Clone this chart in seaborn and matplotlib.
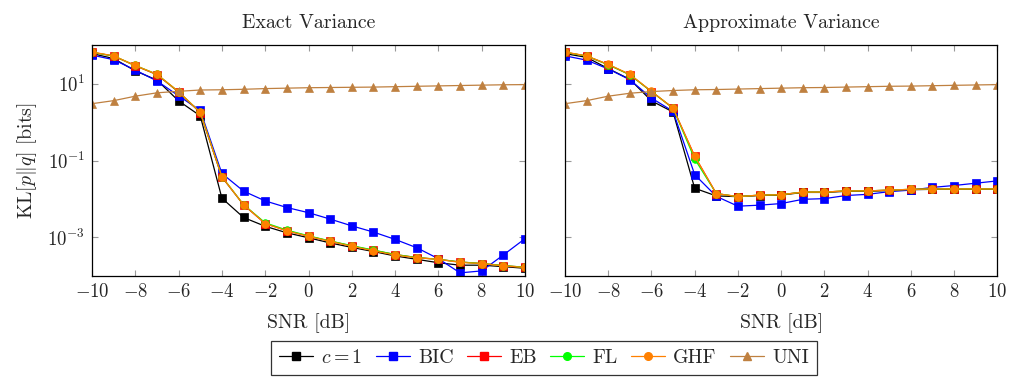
import numpy as np
import pandas as pd
import matplotlib
matplotlib.use("Agg")
import matplotlib.pyplot as plt
import seaborn as sns
from matplotlib.lines import Line2D

snr = list(range(-10, 11))

exact_c1 = [60.3, 44.7, 21.4, 12.3, 3.55, 1.45, 1.05e-2, 3.3e-3, 1.95e-3, 1.32e-3, 9.8e-4, 7.2e-4, 5.5e-4,
            4.3e-4, 3.3e-4, 2.7e-4, 2.2e-4, 1.9e-4, 1.9e-4, 1.74e-4, 1.58e-4]
exact_bic = [55, 41.7, 22.4, 11.7, 4.8, 2.0, 4.6e-2, 1.6e-2, 8.9e-3, 6.0e-3, 4.4e-3, 3.0e-3, 2.0e-3,
             1.38e-3, 8.9e-4, 5.4e-4, 2.8e-4, 1.2e-4, 1.35e-4, 3.5e-4, 9.3e-4]
exact_eb = [65, 52, 29, 17, 6.0, 1.75, 3.7e-2, 7.0e-3, 2.3e-3, 1.5e-3, 1.08e-3, 8.0e-4, 6.0e-4,
            4.6e-4, 3.6e-4, 3.0e-4, 2.7e-4, 2.3e-4, 2.1e-4, 1.85e-4, 1.68e-4]
exact_fl = [65, 52, 29.5, 17.4, 6.1, 1.78, 3.8e-2, 7.1e-3, 2.4e-3, 1.55e-3, 1.1e-3, 8.1e-4, 6.1e-4,
            4.7e-4, 3.6e-4, 3.0e-4, 2.7e-4, 2.3e-4, 2.1e-4, 1.85e-4, 1.68e-4]
exact_ghf = [66, 52.5, 29.5, 17.4, 6.2, 1.78, 3.8e-2, 7.1e-3, 2.3e-3, 1.48e-3, 1.07e-3, 7.9e-4, 5.9e-4,
             4.5e-4, 3.5e-4, 2.95e-4, 2.7e-4, 2.24e-4, 2.1e-4, 1.82e-4, 1.66e-4]
exact_uni = [3.0, 3.6, 4.7, 5.75, 6.3, 6.8, 6.9, 7.1, 7.4, 7.6, 7.8, 7.9, 8.0, 8.1, 8.3, 8.5, 8.7,
             8.9, 9.1, 9.3, 9.4]

approx_c1 = [60, 48, 24.5, 12.9, 3.55, 1.82, 1.9e-2, 1.2e-2, 1.15e-2, 1.23e-2, 1.26e-2, 1.48e-2, 1.48e-2,
             1.58e-2, 1.58e-2, 1.66e-2, 1.74e-2, 1.78e-2, 1.78e-2, 1.78e-2, 1.78e-2]
approx_bic = [52.5, 40.7, 24, 12.6, 4.2, 1.9, 4.3e-2, 1.17e-2, 6.5e-3, 6.9e-3, 7.6e-3, 9.8e-3, 1.02e-2,
              1.23e-2, 1.32e-2, 1.55e-2, 1.7e-2, 2.0e-2, 2.24e-2, 2.57e-2, 2.95e-2]
approx_eb = [65, 52, 31, 17, 6.2, 2.3, 0.13, 1.38e-2, 1.15e-2, 1.26e-2, 1.29e-2, 1.51e-2, 1.51e-2,
             1.62e-2, 1.62e-2, 1.7e-2, 1.78e-2, 1.82e-2, 1.82e-2, 1.82e-2, 1.82e-2]
approx_fl = [65, 52, 31, 17, 6.2, 2.3, 0.11, 1.38e-2, 1.15e-2, 1.26e-2, 1.29e-2, 1.51e-2, 1.51e-2,
             1.62e-2, 1.62e-2, 1.7e-2, 1.78e-2, 1.82e-2, 1.82e-2, 1.82e-2, 1.82e-2]
approx_ghf = [66, 52.5, 31.6, 17.4, 6.3, 2.3, 0.129, 1.38e-2, 1.15e-2, 1.26e-2, 1.29e-2, 1.51e-2, 1.51e-2,
              1.62e-2, 1.62e-2, 1.7e-2, 1.78e-2, 1.82e-2, 1.82e-2, 1.82e-2, 1.82e-2]
approx_uni = [3.0, 3.6, 4.7, 5.6, 6.2, 6.6, 6.9, 7.0, 7.2, 7.4, 7.6, 7.8, 7.9, 8.1, 8.3, 8.5, 8.6,
              8.8, 9.0, 9.2, 9.4]

labels = ["$c = 1$", "BIC", "EB", "FL", "GHF", "UNI"]
colors = ["black", (0, 0, 1), (1, 0, 0), (0, 1, 0), (1, 0.5, 0), (0.75, 0.5, 0.25)]
markers = ["s", "s", "s", "o", "o", "^"]
titles = ["Exact Variance", "Approximate Variance"]
xticks = list(range(-10, 11, 2))
yticks = [1e-3, 1e-1, 1e1]

sns.set_style("ticks")
plt.rcParams["font.family"] = "serif"
plt.rcParams["font.serif"] = ["cmr10", "DejaVu Serif"]
plt.rcParams["mathtext.fontset"] = "cm"
plt.rcParams["axes.formatter.use_mathtext"] = True
plt.rcParams["axes.unicode_minus"] = True

FS = 14.3

fig = plt.figure(figsize=(10.1, 3.79), dpi=100)
axL = fig.add_axes([0.0911, 0.272, 0.4287, 0.609])
axR = fig.add_axes([0.5594, 0.272, 0.4280, 0.609])

panels = [
    (axL, [exact_c1, exact_bic, exact_eb, exact_fl, exact_ghf, exact_uni]),
    (axR, [approx_c1, approx_bic, approx_eb, approx_fl, approx_ghf, approx_uni]),
]

for i, (ax, series) in enumerate(panels):
    for lab, vals, col, mk in zip(labels, series, colors, markers):
        df = pd.DataFrame({"snr": snr, "kl": vals})
        sns.lineplot(data=df, x="snr", y="kl", ax=ax, color=col, marker=mk, markersize=5.5,
                     markeredgecolor=col, markeredgewidth=0.5, linewidth=0.9, legend=False)
    ax.set_yscale("log")
    ax.set_ylim(1e-4, 1e2)
    ax.set_xlim(-10, 10)
    ax.set_xticks(xticks)
    ax.set_yticks(yticks)
    ax.minorticks_off()
    ax.tick_params(direction="in", length=4.5, width=0.8, color="#999999", top=True, right=True,
                   labelsize=13.5, pad=5)
    for sp in ax.spines.values():
        sp.set_color("black")
        sp.set_linewidth(0.9)
    ax.set_title(titles[i], fontsize=FS, pad=12)
    ax.set_xlabel("SNR [dB]", fontsize=FS, labelpad=9)
    ax.set_ylabel("")

axL.set_ylabel(r"KL$[p\|q]$ [bits]", fontsize=FS, labelpad=6)
axR.tick_params(labelleft=False)

handles = [Line2D([0], [0], color=c, marker=m, markersize=5.5, markeredgecolor=c, linewidth=0.9)
           for c, m in zip(colors, markers)]
leg = fig.legend(handles, labels, ncol=6, loc="center", bbox_to_anchor=(0.5386, 0.0555),
                 frameon=True, fancybox=False, fontsize=FS, handlelength=1.7, columnspacing=0.68,
                 handletextpad=0.42, borderpad=0.38, borderaxespad=0)
leg.get_frame().set_edgecolor("black")
leg.get_frame().set_linewidth(0.9)

fig.savefig("out.png", dpi=100)
